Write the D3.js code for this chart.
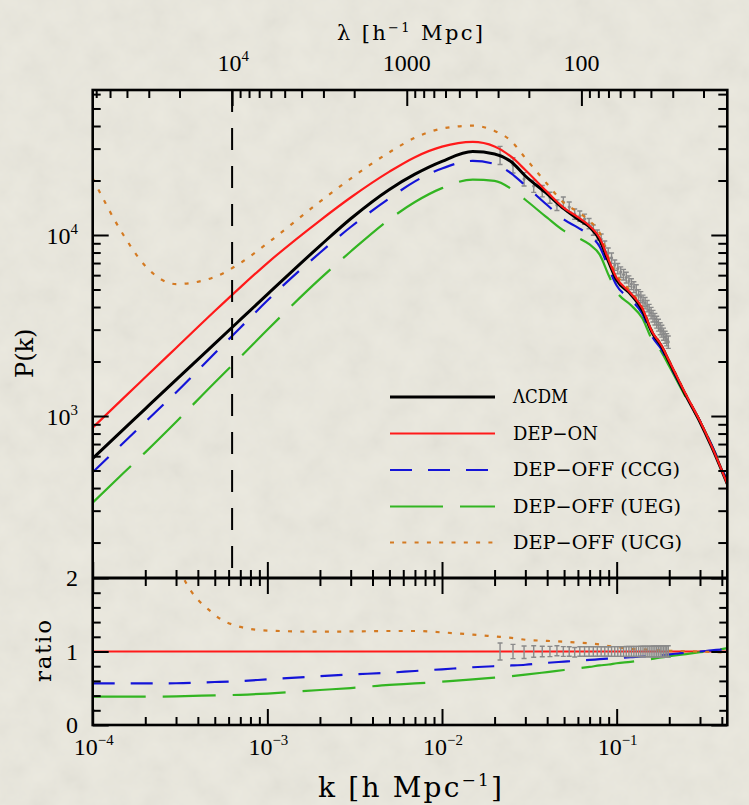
<!DOCTYPE html>
<html>
<head>
<meta charset="utf-8">
<script src="https://cdn.jsdelivr.net/npm/d3@7"></script>
<style>
  body { margin: 0; background: #e8e6dc; }
  svg { display: block; }
</style>
</head>
<body>
<script>
// k grid (h/Mpc) shared by all model curves
var kGrid = [1e-4, 1.5e-4, 2e-4, 3e-4, 5e-4, 7e-4, 1e-3, 2e-3, 3e-3, 5e-3, 7e-3,
  1e-2, 1.5e-2, 2e-2, 2.5e-2, 3e-2, 4e-2, 5e-2, 6e-2, 7e-2, 8e-2, 9e-2,
  0.1, 0.12, 0.14, 0.16, 0.18, 0.2, 0.25, 0.3, 0.35, 0.43];

// P(k)
var pkLCDM  = [583, 843, 1096, 1585, 2512, 3404, 4699, 8710, 12300, 17860, 21680,
  25530, 28910, 28050, 25290, 21180, 16870, 13930, 12250, 11070, 9376, 7096,
  5636, 4721, 3855, 2877, 2438, 1986, 1288, 927, 675, 421];
var pkDepOn = [863, 1256, 1637, 2377, 3802, 5140, 6998, 12020, 16110, 22390, 26920,
  30760, 32660, 30830, 26980, 22860, 17300, 14090, 12560, 11220, 9616, 7278,
  5781, 4786, 3954, 2911, 2466, 2014, 1306, 938, 682, 421];
var pkCCG   = [489, 712, 928, 1350, 2224, 3074, 4346, 7981, 11070, 15940, 19790,
  23320, 25670, 24660, 21850, 18750, 14640, 12150, 10990, 9930, 8606, 6572,
  5261, 4413, 3685, 2736, 2348, 1933, 1286, 938, 692, 434];
var pkUEG   = [332, 484, 630, 927, 1532, 2113, 2995, 5722, 8103, 12200, 15210,
  18150, 20250, 19890, 17940, 15660, 12460, 10540, 9671, 8864, 7789, 5990,
  4856, 4116, 3480, 2620, 2269, 1883, 1260, 929, 689, 440];
var pkUCG   = [20560, 10000, 6745, 5358, 5861, 6998, 8995, 15280, 20510, 28640, 34430,
  38730, 40180, 37580, 32890, 26610, 19140, 15030, 13400, 11940, 10260, 7464,
  6012, 4898, 3981, 2938, 2483, 2023, 1309, 938, 681, 419];

// ratio to DEP-ON
var ratioCCG = [0.567, 0.567, 0.567, 0.568, 0.585, 0.598, 0.621, 0.664, 0.687, 0.712, 0.735,
  0.758, 0.786, 0.80, 0.81, 0.82, 0.846, 0.862, 0.875, 0.885, 0.895, 0.903,
  0.91, 0.922, 0.932, 0.94, 0.952, 0.96, 0.985, 1.0, 1.015, 1.03];
var ratioUEG = [0.385, 0.385, 0.385, 0.39, 0.403, 0.411, 0.428, 0.476, 0.503, 0.545, 0.565,
  0.59, 0.62, 0.645, 0.665, 0.685, 0.72, 0.748, 0.77, 0.79, 0.81, 0.823,
  0.84, 0.86, 0.88, 0.9, 0.92, 0.935, 0.965, 0.99, 1.01, 1.045];
var ratioUCG = [23.8, 8.0, 4.1, 2.25, 1.50, 1.335, 1.285, 1.27, 1.273, 1.279, 1.279,
  1.26, 1.23, 1.205, 1.185, 1.16, 1.145, 1.133, 1.12, 1.11, 1.095, 1.075,
  1.06, 1.035, 1.03, 1.02, 1.015, 1.01, 1.005, 0.998, 0.995, 0.98];
var ratioDepOnK = [1e-4, 0.43];
var ratioDepOn = [1, 1];

// galaxy power spectrum band powers (grey points)
var dataK = [0.0215, 0.0255, 0.0295, 0.0335, 0.0375, 0.0415, 0.0455, 0.0495, 0.0535,
  0.0575, 0.0615, 0.0655, 0.0695, 0.0735, 0.0775, 0.0815, 0.0855, 0.0895, 0.0935,
  0.0975, 0.1015, 0.1055, 0.1095, 0.1135, 0.1175, 0.1215, 0.1255, 0.1295, 0.1335,
  0.1375, 0.1415, 0.1455, 0.1495, 0.1535, 0.1575, 0.1615, 0.1655, 0.1695, 0.1735,
  0.1775, 0.1815, 0.1855, 0.1895, 0.1935, 0.1975];
var dataP = [27680, 24370, 20370, 18650, 17510, 16110, 14640, 15220, 14280, 13060,
  12740, 12250, 11580, 10660, 10000, 9506, 8695, 7955, 7467, 6826, 6529, 6245,
  6050, 5825, 5567, 5359, 5159, 4966, 4664, 4545, 4345, 4209, 4052, 3855, 3711,
  3568, 3435, 3307, 3183, 3043, 2951, 2840, 2731, 2646, 2565];
var dataErr = [0.115, 0.097, 0.085, 0.078, 0.072, 0.07, 0.068, 0.066, 0.065, 0.065,
  0.065, 0.065, 0.065, 0.065, 0.065, 0.065, 0.065, 0.065, 0.066, 0.066, 0.066,
  0.067, 0.067, 0.068, 0.068, 0.069, 0.069, 0.07, 0.07, 0.071, 0.071, 0.072,
  0.072, 0.073, 0.073, 0.074, 0.074, 0.075, 0.075, 0.076, 0.076, 0.077, 0.077,
  0.078, 0.078];
var dataRatio = [1.0, 1.0, 0.99, 1.0, 1.0, 1.0, 1.01, 1.0, 1.0, 0.99, 1.0, 1.0, 1.0,
  1.0, 1.0, 1.0, 1.0, 1.0, 1.0, 1.0, 1.0, 1.0, 1.0, 1.0, 1.0, 1.0, 1.0, 1.0, 1.0,
  1.0, 1.0, 1.0, 1.0, 1.0, 1.0, 1.0, 1.0, 1.0, 1.0, 1.0, 1.0, 1.0, 1.0, 1.0, 1.0];

// ticks
var kMajor = [1e-4, 1e-3, 1e-2, 1e-1];
var kMajorExp = ["\u22124", "\u22123", "\u22122", "\u22121"];
var kMinor = [2e-4, 3e-4, 4e-4, 5e-4, 6e-4, 7e-4, 8e-4, 9e-4,
  2e-3, 3e-3, 4e-3, 5e-3, 6e-3, 7e-3, 8e-3, 9e-3,
  2e-2, 3e-2, 4e-2, 5e-2, 6e-2, 7e-2, 8e-2, 9e-2, 0.2, 0.3, 0.4];
var lamMajor = [1e4, 1000, 100];
var lamMinor = [2e4, 3e4, 4e4, 5e4, 6e4, 2000, 3000, 4000, 5000, 6000, 7000, 8000, 9000,
  200, 300, 400, 500, 600, 700, 800, 900, 20, 30, 40, 50, 60, 70, 80, 90];
var pMajor = [1e3, 1e4];
var pMinor = [200, 300, 400, 500, 600, 700, 800, 900,
  2000, 3000, 4000, 5000, 6000, 7000, 8000, 9000, 2e4, 3e4, 4e4, 5e4, 6e4];
var rMajor = [0, 1, 2];
var rMinor = [0.2, 0.4, 0.6, 0.8, 1.2, 1.4, 1.6, 1.8];

var legendNames = ["\u039BCDM", "DEP\u2212ON", "DEP\u2212OFF (CCG)", "DEP\u2212OFF (UEG)", "DEP\u2212OFF (UCG)"];

// layout
var width = 749, height = 805;
var box = { left: 92.7, right: 727.3, top: 90, mid: 578, bottom: 725 };
var serif = "'DejaVu Serif', serif";
var numFont = "'Liberation Serif', serif";

var svg = d3.select("body").append("svg")
  .attr("width", width)
  .attr("height", height);

var defs = svg.append("defs");
var paper = defs.append("filter").attr("id", "paper")
  .attr("x", 0).attr("y", 0).attr("width", 1).attr("height", 1);
paper.append("feTurbulence").attr("type", "fractalNoise")
  .attr("baseFrequency", 0.035).attr("numOctaves", 4).attr("seed", 7);
paper.append("feColorMatrix").attr("type", "matrix")
  .attr("values", "1 0 0 0 0  1 0 0 0 0  0.95 0 0 0 0  0 0 0 0 0.06");
defs.append("clipPath").attr("id", "clipMain").append("rect")
  .attr("x", box.left).attr("y", box.top)
  .attr("width", box.right - box.left).attr("height", box.mid - box.top);
defs.append("clipPath").attr("id", "clipRatio").append("rect")
  .attr("x", box.left).attr("y", box.mid)
  .attr("width", box.right - box.left).attr("height", box.bottom - box.mid);

svg.append("rect").attr("width", width).attr("height", height).attr("fill", "#eae8de");
svg.append("rect").attr("width", width).attr("height", height).attr("filter", "url(#paper)");

// scales
var x = d3.scaleLog().domain([1e-4, 0.43]).range([box.left, box.right]);
var lam = d3.scaleLog().domain([2 * Math.PI / 1e-4, 2 * Math.PI / 0.43]).range([box.left, box.right]);
var yP = d3.scaleLog().domain([127.4, 63240]).range([box.mid, box.top]);
var yR = d3.scaleLinear().domain([0, 2]).range([box.bottom, box.mid]);

// styles per series
var styles = [
  { color: "#000000", width: 3, dash: null },
  { color: "#ff1a1a", width: 2.2, dash: null },
  { color: "#1414d8", width: 2.2, dash: "22,16" },
  { color: "#33b522", width: 2.2, dash: "53,17" },
  { color: "#d47a22", width: 2.2, dash: "4,8.3" }
];

function lineOf(ks, scaleY) {
  return d3.line()
    .x(function(d, i) { return x(ks[i]); })
    .y(function(d) { return scaleY(d); })
    .curve(d3.curveMonotoneX);
}

function draw(g, ks, vals, scaleY, st) {
  g.append("path")
    .attr("d", lineOf(ks, scaleY)(vals))
    .attr("fill", "none")
    .attr("stroke", st.color)
    .attr("stroke-width", st.width)
    .attr("stroke-dasharray", st.dash)
    .attr("stroke-linejoin", "round");
}

// upper panel
var main = svg.append("g").attr("clip-path", "url(#clipMain)");

// grey data with error bars
var pts = main.append("g").attr("stroke", "#8a8a8a").attr("stroke-width", 1.4);
dataK.forEach(function(k, i) {
  var px = x(k), lo = yP(dataP[i] * (1 - dataErr[i])), hi = yP(dataP[i] * (1 + dataErr[i]));
  pts.append("line").attr("x1", px).attr("x2", px).attr("y1", lo).attr("y2", hi);
  pts.append("line").attr("x1", px - 2.5).attr("x2", px + 2.5).attr("y1", lo).attr("y2", lo);
  pts.append("line").attr("x1", px - 2.5).attr("x2", px + 2.5).attr("y1", hi).attr("y2", hi);
  pts.append("circle").attr("cx", px).attr("cy", yP(dataP[i])).attr("r", 1.6)
    .attr("fill", "#8a8a8a").attr("stroke", "none");
});

draw(main, kGrid, pkUEG, yP, styles[3]);
draw(main, kGrid, pkCCG, yP, styles[2]);
draw(main, kGrid, pkUCG, yP, styles[4]);
draw(main, kGrid, pkLCDM, yP, styles[0]);
draw(main, kGrid, pkDepOn, yP, styles[1]);

// lambda = 10^4 Mpc/h marker
svg.append("line")
  .attr("x1", lam(1e4)).attr("x2", lam(1e4))
  .attr("y1", box.top).attr("y2", box.mid)
  .attr("stroke", "#000").attr("stroke-width", 2)
  .attr("stroke-dasharray", "22,16");

// lower panel
var low = svg.append("g").attr("clip-path", "url(#clipRatio)");
draw(low, ratioDepOnK, ratioDepOn, yR, styles[1]);
draw(low, kGrid, ratioUEG, yR, styles[3]);
draw(low, kGrid, ratioCCG, yR, styles[2]);
draw(low, kGrid, ratioUCG, yR, styles[4]);
var rpts = low.append("g").attr("stroke", "#8a8a8a").attr("stroke-width", 1.4);
dataK.forEach(function(k, i) {
  var px = x(k), lo = yR(dataRatio[i] - dataErr[i]), hi = yR(dataRatio[i] + dataErr[i]);
  rpts.append("line").attr("x1", px).attr("x2", px).attr("y1", lo).attr("y2", hi);
  rpts.append("line").attr("x1", px - 2.5).attr("x2", px + 2.5).attr("y1", lo).attr("y2", lo);
  rpts.append("line").attr("x1", px - 2.5).attr("x2", px + 2.5).attr("y1", hi).attr("y2", hi);
});

// axes (ticks point inwards)
function ticks(axis, at, vals, size) {
  var g = svg.append("g").attr("transform", at)
    .call(axis.tickValues(vals).tickSize(size).tickFormat(""));
  g.select(".domain").remove();
  g.selectAll("line").attr("stroke", "#000").attr("stroke-width", 2);
}
var bx = "translate(0," + box.bottom + ")", mx = "translate(0," + box.mid + ")";
var tx = "translate(0," + box.top + ")";
var lx = "translate(" + box.left + ",0)", rx = "translate(" + box.right + ",0)";

ticks(d3.axisBottom(x), bx, kMajor, -16);
ticks(d3.axisBottom(x), bx, kMinor, -8);
ticks(d3.axisBottom(x), mx, kMajor, 16);
ticks(d3.axisBottom(x), mx, kMinor, 8);
ticks(d3.axisBottom(x), mx, kMajor, -16);
ticks(d3.axisBottom(x), mx, kMinor, -8);
ticks(d3.axisTop(lam), tx, lamMajor, -16);
ticks(d3.axisTop(lam), tx, lamMinor, -8);
ticks(d3.axisLeft(yP), lx, pMajor, -16);
ticks(d3.axisLeft(yP), lx, pMinor, -8);
ticks(d3.axisRight(yP), rx, pMajor, -16);
ticks(d3.axisRight(yP), rx, pMinor, -9);
ticks(d3.axisLeft(yR), lx, rMajor, -16);
ticks(d3.axisLeft(yR), lx, rMinor, -8);
ticks(d3.axisRight(yR), rx, rMajor, -16);
ticks(d3.axisRight(yR), rx, rMinor, -8);

// frame
svg.append("rect")
  .attr("x", box.left).attr("y", box.top)
  .attr("width", box.right - box.left).attr("height", box.bottom - box.top)
  .attr("fill", "none").attr("stroke", "#000").attr("stroke-width", 2.6);
svg.append("line")
  .attr("x1", box.left).attr("x2", box.right)
  .attr("y1", box.mid).attr("y2", box.mid)
  .attr("stroke", "#000").attr("stroke-width", 2.8);

// tick labels
function powLabel(px, py, exp, anchor, fs) {
  var t = svg.append("text").attr("x", px).attr("y", py)
    .attr("text-anchor", anchor).attr("font-family", numFont).attr("font-size", fs);
  t.append("tspan").text("10");
  t.append("tspan").attr("font-size", fs * 0.62).attr("dy", -fs * 0.4).text(exp);
  return t;
}
kMajor.forEach(function(k, i) { powLabel(x(k) + 1, 755, kMajorExp[i], "middle", 24); });
powLabel(78, yP(1e4) + 9, "4", "end", 24);
powLabel(78, yP(1e3) + 9, "3", "end", 24);
powLabel(lam(1e4) + 1, 71, "4", "middle", 24);
svg.selectAll(null).data([1000, 100]).enter().append("text")
  .attr("x", function(d) { return lam(d); })
  .attr("y", 71)
  .attr("text-anchor", "middle")
  .attr("font-family", numFont).attr("font-size", 24)
  .text(function(d) { return d; });
svg.selectAll(null).data(rMajor).enter().append("text")
  .attr("x", 78)
  .attr("y", function(d) { return yR(d) + 8; })
  .attr("text-anchor", "end")
  .attr("font-family", numFont).attr("font-size", 24)
  .text(function(d) { return d; });

// axis titles
var tTop = svg.append("text").attr("x", 337).attr("y", 40)
  .attr("font-family", serif).attr("font-size", 21)
  .attr("textLength", 146).attr("lengthAdjust", "spacing");
tTop.append("tspan").text("\u03BB [h");
tTop.append("tspan").attr("font-size", 13).attr("dy", -8).text("\u22121");
tTop.append("tspan").attr("dy", 8).text(" Mpc]");

var tBot = svg.append("text").attr("x", 318).attr("y", 797)
  .attr("font-family", serif).attr("font-size", 28)
  .attr("textLength", 184).attr("lengthAdjust", "spacing");
tBot.append("tspan").text("k [h Mpc");
tBot.append("tspan").attr("font-size", 17).attr("dy", -11).text("\u22121");
tBot.append("tspan").attr("dy", 11).text("]");

svg.append("text").attr("transform", "translate(33,378) rotate(-90)")
  .attr("font-family", serif).attr("font-size", 24).text("P(k)");
svg.append("text").attr("transform", "translate(51,682) rotate(-90)")
  .attr("font-family", serif).attr("font-size", 23)
  .attr("textLength", 62).attr("lengthAdjust", "spacing").text("ratio");

// legend
var legY = [397, 433.5, 470, 506.5, 542.5];
var legW = [55, 85, 167, 168, 169];
legendNames.forEach(function(name, i) {
  var st = styles[i];
  svg.append("line")
    .attr("x1", 390).attr("x2", 495).attr("y1", legY[i]).attr("y2", legY[i])
    .attr("stroke", st.color).attr("stroke-width", st.width)
    .attr("stroke-dasharray", st.dash);
  svg.append("text").attr("x", 513).attr("y", legY[i] + 6)
    .attr("font-family", serif).attr("font-size", 18.5)
    .attr("textLength", legW[i]).attr("lengthAdjust", "spacingAndGlyphs")
    .text(name);
});
</script>
</body>
</html>
